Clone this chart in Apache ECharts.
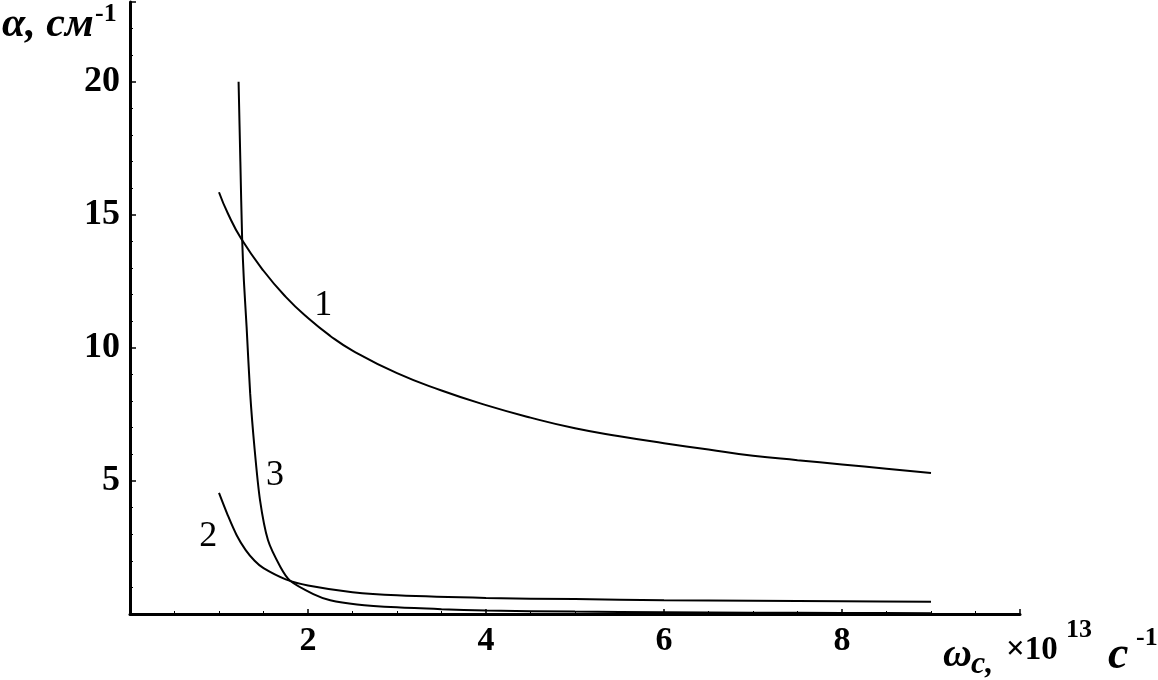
<!DOCTYPE html>
<html>
<head>
<meta charset="utf-8">
<script src="https://cdn.jsdelivr.net/npm/echarts@6/dist/echarts.min.js"></script>
<style>
  html, body { margin: 0; padding: 0; background: #fff; }
  #chart { width: 1158px; height: 680px; }
</style>
</head>
<body>
<div id="chart"></div>
<script>
// curve 1
const curve1X = [1.0, 1.1, 1.25, 1.5, 1.75, 2.0, 2.25, 2.5, 3.0, 3.5, 4.0, 4.5, 5.0, 5.5, 6.0, 6.5, 7.0, 7.5, 8.0, 8.5, 9.0]
const curve1Y = [15.85, 15.05, 14.1, 12.9, 11.92, 11.12, 10.45, 9.9, 9.05, 8.4, 7.85, 7.38, 6.98, 6.68, 6.42, 6.18, 5.95, 5.78, 5.62, 5.46, 5.3]
// curve 2
const curve2X = [1.0, 1.1, 1.2, 1.3, 1.4, 1.5, 1.75, 2.0, 2.5, 3.0, 4.0, 5.0, 6.0, 7.0, 8.0, 9.0]
const curve2Y = [4.55, 3.7, 2.95, 2.4, 2.0, 1.72, 1.3, 1.07, 0.82, 0.7, 0.6, 0.56, 0.52, 0.5, 0.48, 0.46]
// curve 3
const curve3X = [1.22, 1.24, 1.26, 1.28, 1.31, 1.35, 1.4, 1.46, 1.55, 1.69, 1.8, 2.06, 2.25, 2.55, 3.0, 3.5, 4.0, 5.0, 6.0, 7.0, 8.0, 9.0]
const curve3Y = [20, 17, 14.1, 12.5, 10.8, 8.3, 6.2, 4.3, 2.78, 1.77, 1.25, 0.75, 0.52, 0.36, 0.25, 0.18, 0.13, 0.09, 0.07, 0.05, 0.04, 0.03]

const xTicks = [2, 4, 6, 8]
const yTicks = [5, 10, 15, 20]
const curveNames = ['1', '2', '3']

const serif = '"Liberation Serif", "DejaVu Serif", serif'

function pairs (xs, ys) {
  return xs.map((x, i) => [x, ys[i]])
}

function curve (name, xs, ys, labelAt, smooth) {
  return {
    name: name,
    type: 'line',
    data: pairs(xs, ys),
    showSymbol: false,
    smooth: smooth,
    lineStyle: { color: '#000', width: 2 },
    z: 3,
    markPoint: {
      symbol: 'rect',
      symbolSize: 1,
      itemStyle: { color: 'rgba(0,0,0,0)' },
      label: {
        show: true,
        position: 'inside',
        color: '#000',
        fontFamily: serif,
        fontSize: 36,
        formatter: name
      },
      data: [{ coord: labelAt }]
    }
  }
}

const chart = echarts.init(document.getElementById('chart'))

const option = {
  animation: false,
  backgroundColor: '#fff',
  grid: {
    left: 130,
    right: 138,
    top: 2,
    bottom: 66
  },
  xAxis: {
    type: 'value',
    min: 0,
    max: 10,
    interval: 2,
    axisLine: { onZero: false, lineStyle: { color: '#000', width: 3 } },
    axisTick: { show: true, inside: true, length: 5, lineStyle: { color: '#000', width: 1.5 } },
    minorTick: { show: true, splitNumber: 4, length: 3, lineStyle: { color: '#000', width: 1 } },
    splitLine: { show: false },
    axisLabel: {
      margin: 10,
      color: '#000',
      fontFamily: serif,
      fontWeight: 'bold',
      fontSize: 34,
      formatter: v => xTicks.includes(v) ? String(v) : ''
    }
  },
  yAxis: {
    type: 'value',
    min: 0,
    max: 23,
    interval: 5,
    axisLine: { show: true, onZero: false, lineStyle: { color: '#000', width: 3 } },
    axisTick: { show: true, inside: true, length: 6, lineStyle: { color: '#000', width: 1.5 } },
    minorTick: { show: true, splitNumber: 5, length: 3, lineStyle: { color: '#000', width: 1 } },
    splitLine: { show: false },
    axisLabel: {
      margin: 10,
      color: '#000',
      fontFamily: serif,
      fontWeight: 'bold',
      fontSize: 36,
      showMaxLabel: false,
      formatter: v => yTicks.includes(v) ? String(v) : ''
    }
  },
  graphic: [
    { type: 'text', x: 2, y: 25, style: { text: 'α, см', font: 'italic bold 42px ' + serif, fill: '#000', verticalAlign: 'middle' } },
    { type: 'text', x: 95, y: 14, style: { text: '-1', font: 'bold 26px ' + serif, fill: '#000', verticalAlign: 'middle' } },
    { type: 'text', x: 943, y: 656, style: { text: 'ω', font: 'italic bold 40px ' + serif, fill: '#000', verticalAlign: 'middle' } },
    { type: 'text', x: 971, y: 665, style: { text: 'c,', font: 'italic bold 32px ' + serif, fill: '#000', verticalAlign: 'middle' } },
    { type: 'text', x: 1006, y: 650, style: { text: '×10', font: 'bold 33px ' + serif, fill: '#000', verticalAlign: 'middle' } },
    { type: 'text', x: 1066, y: 630, style: { text: '13', font: 'bold 26px ' + serif, fill: '#000', verticalAlign: 'middle' } },
    { type: 'text', x: 1108, y: 656, style: { text: 'с', font: 'italic bold 46px ' + serif, fill: '#000', verticalAlign: 'middle' } },
    { type: 'text', x: 1136, y: 638, style: { text: '-1', font: 'bold 26px ' + serif, fill: '#000', verticalAlign: 'middle' } }
  ],
  series: [
    curve(curveNames[0], curve1X, curve1Y, [2.17, 11.6], 0.5),
    curve(curveNames[1], curve2X, curve2Y, [0.88, 2.9], 0.3),
    curve(curveNames[2], curve3X, curve3Y, [1.63, 5.2], 0.25)
  ]
}

chart.setOption(option)
</script>
</body>
</html>
